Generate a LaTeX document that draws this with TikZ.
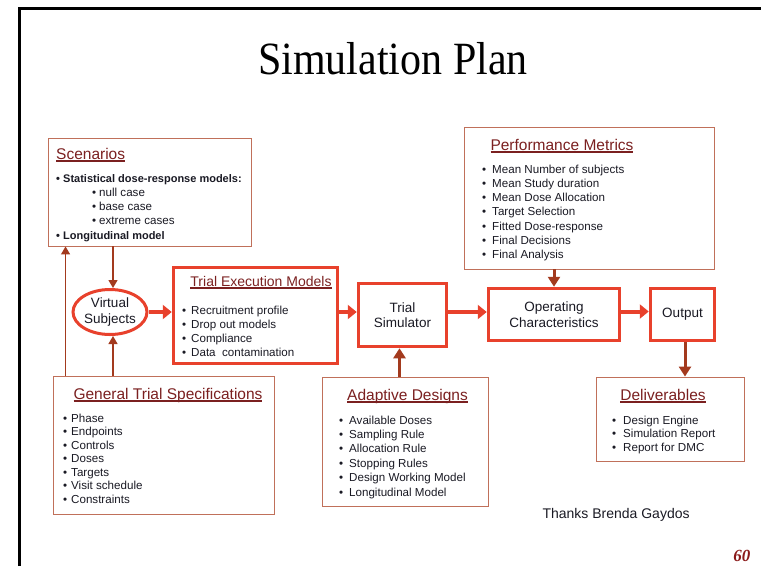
\documentclass[tikz,border=0pt]{standalone}
\usepackage{fontspec}
\setmainfont{Liberation Sans}
\newfontfamily\titlefont{Liberation Serif}
\usetikzlibrary{arrows.meta,shapes.geometric}

% punto elenco di larghezza fissa
\newcommand{\bul}[1][10pt]{\makebox[#1][l]{\textbullet}}
% sottolineatura spessa per i titoli dei riquadri
\newcommand{\sott}[1]{\setbox0\hbox{#1}\rlap{\rule[-2.6pt]{\wd0}{1.3pt}}\box0}

\begin{document}
\begin{tikzpicture}[x=1pt,y=-1pt,
  thinbox/.style={draw=colBox, line width=0.9pt, inner sep=0pt},
  redbox/.style={draw=colRed, line width=3.5pt, inner sep=0pt},
  head/.style={font=\fontsize{15.5}{18}\selectfont, text=colHead, inner sep=0pt, anchor=base},
  voce/.style={font=\fontsize{11.6}{14}\selectfont, text=colText, inner sep=0pt, anchor=base west},
  flow/.style={font=\fontsize{13.5}{15.5}\selectfont, align=center, text=colText},
  frecciaRossa/.style={draw=colRed, line width=4pt, -{Triangle[length=9pt,width=14pt]}},
  frecciaMarrone/.style={draw=colBrown, line width=3pt, -{Triangle[length=10pt,width=12pt]}},
  frecciaSottile/.style={draw=colBrown, line width=1.3pt, -{Triangle[length=8pt,width=9pt]}}]

% Colori
\definecolor{colRed}{HTML}{E8412C}
\definecolor{colBrown}{HTML}{A33A1E}
\definecolor{colBox}{HTML}{C0705A}
\definecolor{colHead}{HTML}{7B2020}
\definecolor{colText}{HTML}{1A1A24}
\definecolor{colNum}{HTML}{8B1A1A}

\useasboundingbox[fill=white] (0,0) rectangle (761,566);

% Cornice
\draw[line width=3pt] (19,566) -- (19,8) -- (761,8);

% Titolo
\node[font=\titlefont\fontsize{42}{48}\selectfont, anchor=base, yscale=1.1] (title) at (393,74) {Simulation Plan};

% Riquadri sottili
\node[thinbox, minimum width=203, minimum height=108] (scen) at (149.5,192) {};
\node[thinbox, minimum width=250, minimum height=142] (pm) at (589,198) {};
\node[thinbox, minimum width=221, minimum height=138] (gts) at (163.5,445) {};
\node[thinbox, minimum width=166, minimum height=129] (ad) at (405,441.5) {};
\node[thinbox, minimum width=148, minimum height=84] (del) at (670,419) {};

% Blocchi del flusso
\node[ellipse, draw=colRed, line width=3pt, minimum width=74, minimum height=45, inner sep=0pt, flow] (vs) at (110,312) {Virtual\\Subjects};
\node[redbox, minimum width=164, minimum height=96] (tem) at (255.5,315.5) {};
\node[redbox, minimum width=88, minimum height=63, flow] (ts) at (402.5,315) {Trial\\Simulator};
\node[redbox, minimum width=131, minimum height=52, flow] (oc) at (554,314.5) {Operating\\Characteristics};
\node[redbox, minimum width=64, minimum height=52, flow] (out) at (682.5,314.5) {Output};

% Scenarios
\node[head, anchor=base west] (scen-t) at (56,159) {\sott{Scenarios}};
\node[voce, font=\bfseries\fontsize{11}{13}\selectfont] (scen-1) at (56,182) {\bul[7pt]Statistical dose-response models:};
\foreach \t [count=\i] in {null case, base case, extreme cases}
  \node[voce] (scen-s\i) at (92,182+14.2*\i) {\bul[7pt]\t};
\node[voce, font=\bfseries\fontsize{11}{13}\selectfont] (scen-2) at (56,239) {\bul[7pt]Longitudinal model};

% Trial Execution Models
\node[head, font=\fontsize{14}{16}\selectfont] (tem-t) at (261,286) {\sott{Trial Execution Models}};
\foreach \t [count=\i from 0] in {Recruitment profile, Drop out models, Compliance, Data~ contamination}
  \node[voce] (tem-\i) at (182,314+14.3*\i) {\bul[9pt]\t};

% Performance Metrics
\node[head] (pm-t) at (562,150) {\sott{Performance Metrics}};
\foreach \t [count=\i from 0] in {Mean Number of subjects, Mean Study duration, Mean Dose Allocation,
    Target Selection, Fitted Dose-response, Final Decisions, Final Analysis}
  \node[voce] (pm-\i) at (482,173+14.3*\i) {\bul[10pt]\t};

% General Trial Specifications
\node[head] (gts-t) at (168,399) {\sott{General Trial Specifications}};
\foreach \t [count=\i from 0] in {Phase, Endpoints, Controls, Doses, Targets, Visit schedule, Constraints}
  \node[voce] (gts-\i) at (63,422+13.5*\i) {\bul[8pt]\t};

% Adaptive Designs
\node[head] (ad-t) at (407.5,400) {\sott{Adaptive Designs}};
\foreach \t [count=\i from 0] in {Available Doses, Sampling Rule, Allocation Rule, Stopping Rules,
    Design Working Model, Longitudinal Model}
  \node[voce] (ad-\i) at (339,424+14.4*\i) {\bul[10pt]\t};

% Deliverables
\node[head] (del-t) at (663,400) {\sott{Deliverables}};
\foreach \t [count=\i from 0] in {Design Engine, Simulation Report, Report for DMC}
  \node[voce] (del-\i) at (612,424+13.5*\i) {\bul[11pt]\t};

% Frecce sottili
\draw[frecciaSottile] ([xshift=3pt]scen.south -| vs.north) -- ([xshift=3pt]vs.north);
\draw[frecciaSottile] ([xshift=3pt]gts.north -| vs.south) -- ([xshift=3pt]vs.south);
\draw[frecciaSottile] ([xshift=13pt]gts.north west) -- ([xshift=13pt]gts.north west |- scen.south);

% Frecce del flusso
\draw[frecciaRossa] (vs.east) -- (tem.west |- vs.east);
\draw[frecciaRossa] ([yshift=3pt]tem.east |- ts.west) -- ([yshift=3pt]ts.west);
\draw[frecciaRossa] ([yshift=3pt]ts.east) -- ([yshift=3pt]oc.west |- ts.east);
\draw[frecciaRossa] ([yshift=3pt]oc.east) -- ([yshift=3pt]out.west);

% Frecce spesse
\draw[frecciaMarrone] (pm.south -| oc.north) -- (oc.north);
\draw[frecciaMarrone] ([xshift=-3pt]ad.north -| ts.south) -- ([xshift=-3pt]ts.south);
\draw[frecciaMarrone] ([xshift=2.5pt]out.south) -- ([xshift=2.5pt]out.south |- del.north);

% Ringraziamenti e numero di pagina
\node[font=\fontsize{14}{16}\selectfont, anchor=base west, text=colText] (thanks) at (539,518) {Thanks Brenda Gaydos};
\node[font=\titlefont\bfseries\itshape\fontsize{17}{19}\selectfont, text=colNum, anchor=base east] (page) at (754,561) {60};

\end{tikzpicture}
\end{document}
